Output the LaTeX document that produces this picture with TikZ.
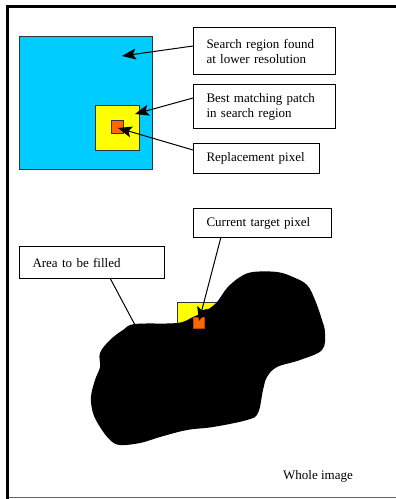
\documentclass[tikz,border=0pt]{standalone}
\usepackage{fontspec}
\setmainfont{Liberation Serif}
\usetikzlibrary{arrows.meta}
\definecolor{skyb}{HTML}{00CCFF}
\definecolor{yel}{HTML}{FFFF00}
\definecolor{org}{HTML}{FF6600}
\begin{document}
\begin{tikzpicture}[x=1pt,y=-1pt,
  label box/.style={draw=black,line width=1pt,fill=white,anchor=north west,align=left,inner xsep=13pt,inner ysep=0pt,font=\fontsize{13}{15}\selectfont},
  sq/.style={draw=black!80,line width=1pt,anchor=north west,inner sep=0pt},
  pointer/.style={line width=1pt,-{Stealth[length=14pt,width=11pt,inset=3pt]}},
  leader/.style={line width=1pt}]
\useasboundingbox (0,0) rectangle (396,499);
% frame
\draw[line width=0.8pt,black!60] (7,497) -- (400,497);
\draw[line width=3pt,black] (7,499) -- (7,6.5) -- (400,6.5);
% top squares
\node[sq,fill=skyb,minimum width=133pt,minimum height=133pt] (blue) at (19,36) {};
\node[sq,fill=yel,minimum width=44pt,minimum height=45pt] (yellow) at (95,105) {};
\node[sq,fill=org,minimum width=12pt,minimum height=13pt] (orange) at (111,120) {};
% label boxes
\node[label box,text width=116pt,minimum height=47pt] (b1) at (193,27) {Search region found\\at lower resolution};
\node[label box,text width=116pt,minimum height=44pt] (b2) at (193,84) {Best matching patch\\in search region};
\node[label box,text width=100pt,minimum height=30pt] (b3) at (193,143) {Replacement pixel};
\coordinate (t1) at (122,56);
\coordinate (t2) at (135,114);
\coordinate (t3) at (118,128);
\draw[pointer] (b1.west |- 0,46) -- (t1);
\draw[pointer] (b2.west |- 0,98) -- (t2);
\draw[pointer] (b3.west |- 0,150) -- (t3);
% bottom
\node[sq,fill=yel,minimum width=40pt,minimum height=28pt] (patch) at (177,302) {};
\fill[black] plot[smooth cycle,tension=0.6] coordinates {
 (135,324) (177,323) (193,317) (207,310) (217,302) (227,288) (240,277) (253,272)
 (277,272) (293,277) (307,285) (315,300) (322,320) (325,333) (322,350) (300,360)
 (277,367) (267,377) (263,390) (258,413) (247,420) (213,427) (187,430) (160,437)
 (140,443) (120,445) (110,440) (100,427) (93,413) (91,397) (95,380) (100,367)
 (100,353) (110,340) (123,330)};
\node[sq,draw=org!70!black,fill=org,minimum width=11pt,minimum height=11pt] (target) at (193,317) {};
\node[label box,text width=112pt,minimum height=29pt] (b4) at (193,208) {Current target pixel};
\node[label box,text width=119pt,minimum height=32pt] (b5) at (19,246) {Area to be filled};
\coordinate (t4) at (199,321);
\coordinate (t5) at (135,325);
\draw[pointer] (221,237) -- (t4);
\draw[leader] (110,278) -- (t5);
\node[font=\fontsize{13}{15}\selectfont,inner sep=0pt] (whole) at (318,476) {Whole image};
\end{tikzpicture}
\end{document}
